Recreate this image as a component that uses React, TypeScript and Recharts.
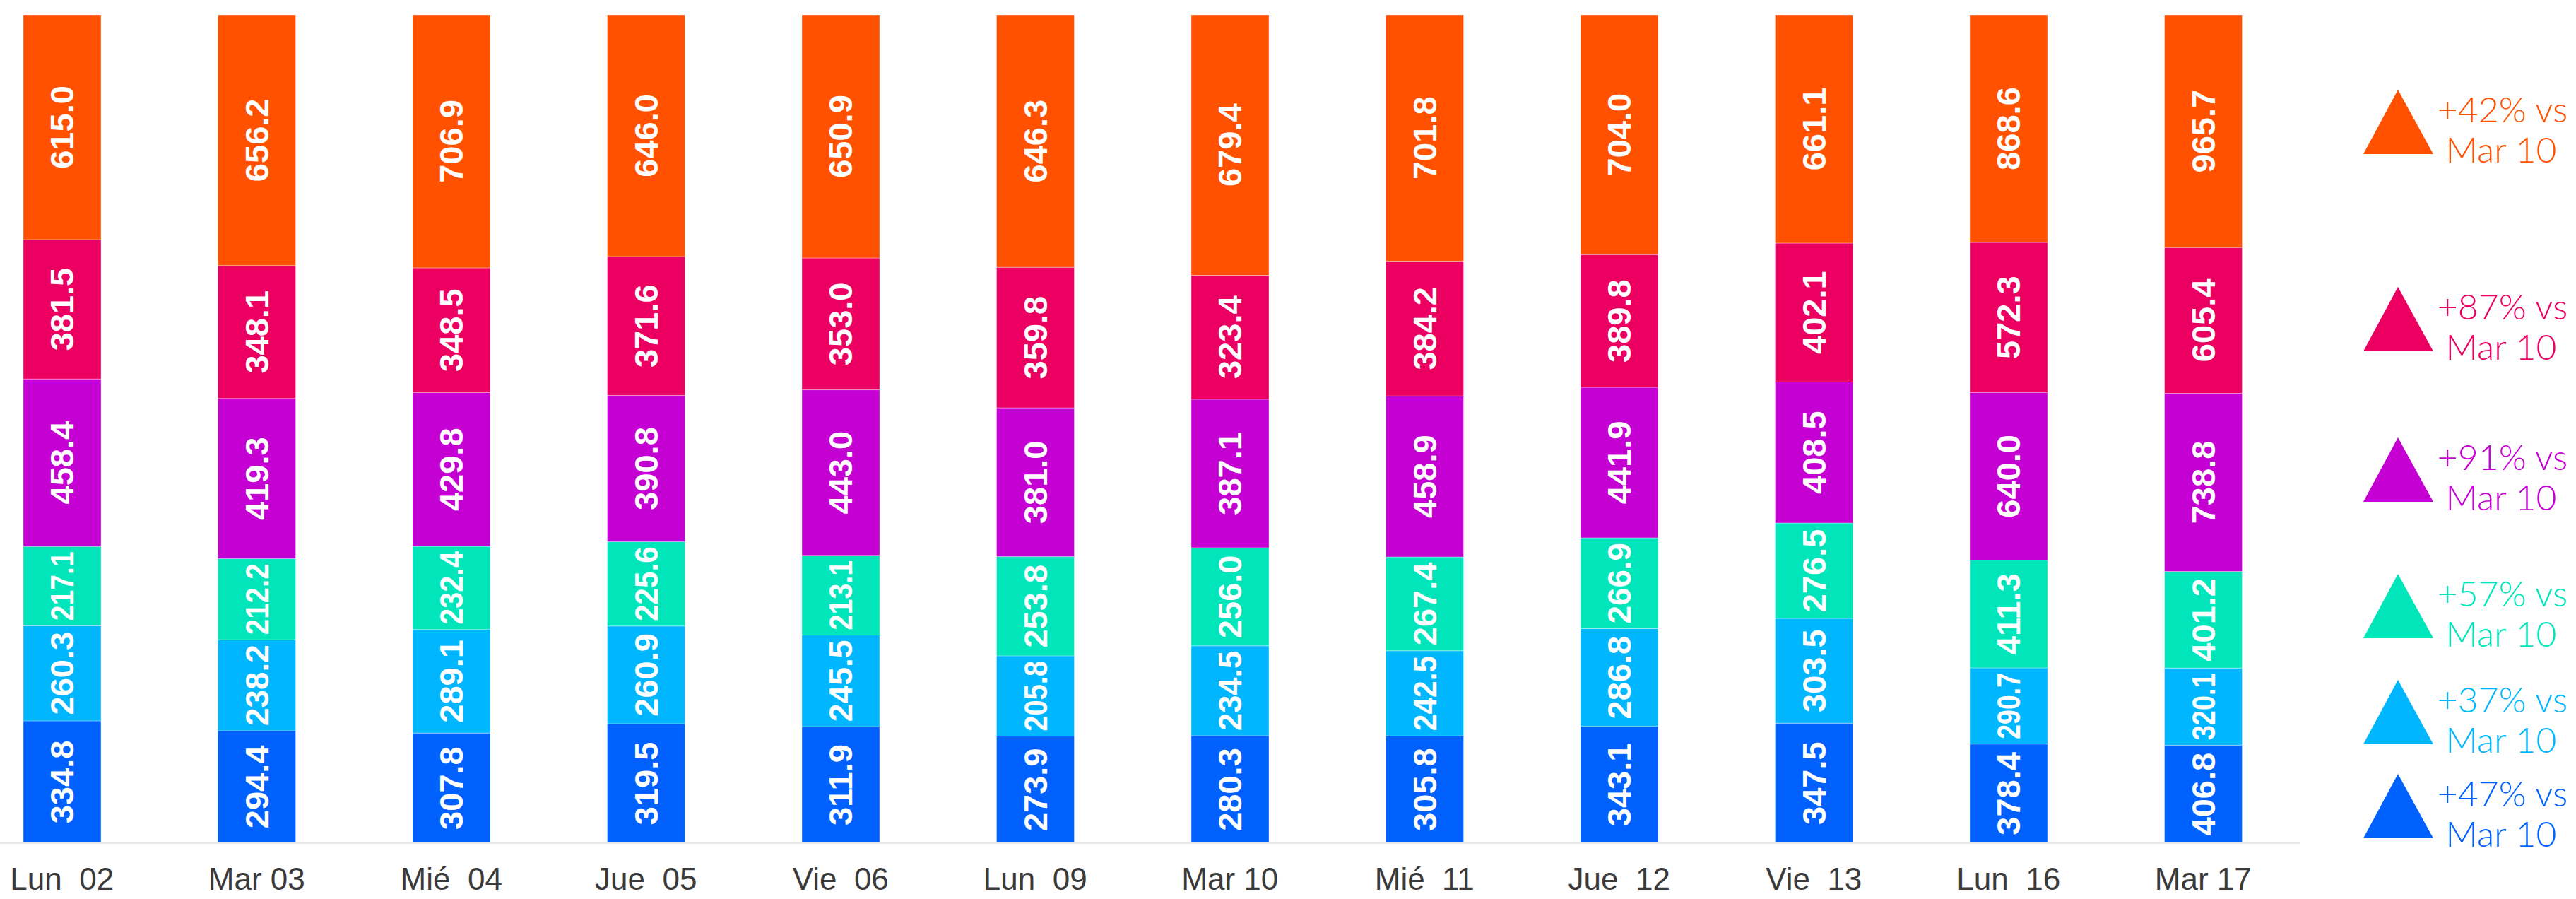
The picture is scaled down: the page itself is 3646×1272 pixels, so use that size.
import React from "react";
import { BarChart, Bar, XAxis, YAxis, LabelList } from "recharts";

const days = ["Lun  02", "Mar 03", "Mié  04", "Jue  05", "Vie  06", "Lun  09", "Mar 10", "Mié  11", "Jue  12", "Vie  13", "Lun  16", "Mar 17"];

// stacked bottom to top
const blue = [334.8, 294.4, 307.8, 319.5, 311.9, 273.9, 280.3, 305.8, 343.1, 347.5, 378.4, 406.8];
const sky = [260.3, 238.2, 289.1, 260.9, 245.5, 205.8, 234.5, 242.5, 286.8, 303.5, 290.7, 320.1];
const teal = [217.1, 212.2, 232.4, 225.6, 213.1, 253.8, 256.0, 267.4, 266.9, 276.5, 411.3, 401.2];
const purple = [458.4, 419.3, 429.8, 390.8, 443.0, 381.0, 387.1, 458.9, 441.9, 408.5, 640.0, 738.8];
const pink = [381.5, 348.1, 348.5, 371.6, 353.0, 359.8, 323.4, 384.2, 389.8, 402.1, 572.3, 605.4];
const orange = [615.0, 656.2, 706.9, 646.0, 650.9, 646.3, 679.4, 701.8, 704.0, 661.1, 868.6, 965.7];

// legend, top to bottom
const legendChanges = ["+42%", "+87%", "+91%", "+57%", "+37%", "+47%"];
const legendRef = "Mar 10";

const COLORS = {
  blue: "#0061ff",
  sky: "#00b6ff",
  teal: "#00e5ba",
  purple: "#c400d2",
  pink: "#eb0062",
  orange: "#ff5100",
};

const data = days.map((day, i) => ({
  day,
  blue: blue[i],
  sky: sky[i],
  teal: teal[i],
  purple: purple[i],
  pink: pink[i],
  orange: orange[i],
}));

const series = ["blue", "sky", "teal", "purple", "pink", "orange"] as const;
const legendColors = [COLORS.orange, COLORS.pink, COLORS.purple, COLORS.teal, COLORS.sky, COLORS.blue];
const legendTops = [127, 406, 619, 812, 962, 1095];

const LABEL_FS = 47;

function SegmentLabel(props: any) {
  const { x, y, width, height, value } = props;
  const cx = x + width / 2;
  const cy = y + height / 2;
  const natural = LABEL_FS * 2.5;
  // squeeze the label a little when the segment is short
  const room = height - 14;
  const squeeze = room < natural ? { textLength: room, lengthAdjust: "spacingAndGlyphs" } : {};
  return (
    <text
      x={cx}
      y={cy}
      transform={`rotate(-90, ${cx}, ${cy})`}
      textAnchor="middle"
      dominantBaseline="central"
      fill="#ffffff"
      fontWeight="bold"
      fontSize={LABEL_FS}
      fontFamily="'Liberation Sans', Arial, sans-serif"
      {...squeeze}
    >
      {Number(value).toFixed(1)}
    </text>
  );
}

function DayTick(props: any) {
  const { x, y, payload } = props;
  return (
    <text
      x={x}
      y={y + 66}
      textAnchor="middle"
      fill="#3a3a3a"
      fontSize={44}
      fontFamily="'Liberation Sans', Arial, sans-serif"
      style={{ whiteSpace: "pre" }}
    >
      {payload.value}
    </text>
  );
}

function Legend() {
  return (
    <svg width={346} height={1272} style={{ position: "absolute", left: 3300, top: 0 }}>
      {legendChanges.map((c, i) => {
        const top = legendTops[i];
        const col = legendColors[i];
        return (
          <g key={c}>
            <polygon points={`${94},${top} ${144},${top + 91} ${45},${top + 91}`} fill={col} />
            <text x={242} y={top + 46} textAnchor="middle" fill={col} fontSize={50} fontWeight={300} fontFamily="Lato, 'Open Sans', sans-serif">
              {c} vs
            </text>
            <text x={240} y={top + 103} textAnchor="middle" fill={col} fontSize={50} fontWeight={300} fontFamily="Lato, 'Open Sans', sans-serif">
              {legendRef}
            </text>
          </g>
        );
      })}
    </svg>
  );
}

export default function App() {
  return (
    <div style={{ position: "absolute", left: 0, top: 0, width: 3646, height: 1272, overflow: "hidden", background: "#fff" }}>
      <div style={{ position: "absolute", left: -50, top: 0 }}>
        <BarChart
          width={3306}
          height={1272}
          data={data}
          stackOffset="expand"
          barSize={110}
          margin={{ top: 21, right: 0, left: 0, bottom: 0 }}
        >
          <XAxis
            dataKey="day"
            height={79}
            axisLine={{ stroke: "#e8e8e8", strokeWidth: 2 }}
            tickLine={false}
            tickSize={0}
            tickMargin={0}
            interval={0}
            tick={<DayTick />}
          />
          <YAxis hide domain={[0, 1]} />
          {series.map((s) => (
            <Bar key={s} dataKey={s} stackId="a" fill={COLORS[s]} stroke="rgba(255,255,255,0.35)" strokeWidth={1} isAnimationActive={false}>
              <LabelList dataKey={s} content={<SegmentLabel />} />
            </Bar>
          ))}
        </BarChart>
      </div>
      <Legend />
    </div>
  );
}
